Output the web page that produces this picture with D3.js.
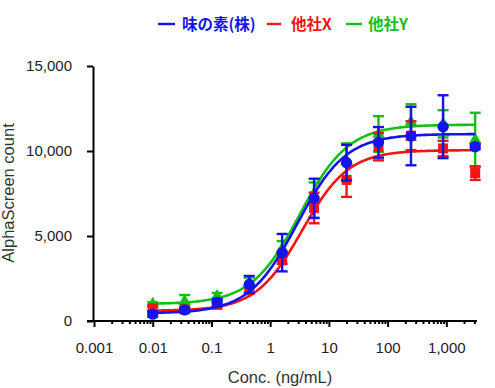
<!DOCTYPE html>
<html>
<head>
<meta charset="utf-8">
<script src="https://cdn.jsdelivr.net/npm/d3@7"></script>
<style>
  body { margin: 0; background: #fff; }
  text { font-family: "Liberation Sans", Arial, sans-serif; }
</style>
</head>
<body>
<div id="chart"></div>
<script>
// concentrations (ng/mL) of the dilution series
var conc = [0.01, 0.035, 0.125, 0.44, 1.6, 5.6, 20, 70, 250, 880, 3100];

// mean and SD of the AlphaScreen count, per product
var ajiMean   = [400, 650, 1100, 2150, 4020, 7220, 9310, 10510, 10880, 11430, 10250];
var ajiSD     = [150, 150, 200, 500, 1100, 1150, 1050, 900, 1720, 1850, 150];
var xMean     = [750, 680, 950, 1820, 3700, 6650, 8300, 10250, 10900, 10150, 8700];
var xSD       = [150, 100, 150, 200, 350, 900, 1000, 800, 850, 450, 400];
var yMean     = [1000, 1150, 1450, 2250, 4250, 7100, 9400, 11000, 11700, 11600, 10650];
var ySD       = [100, 380, 200, 300, 450, 1050, 1050, 1050, 1050, 800, 1600];

// 4PL fit parameters: bottom, top, EC50, hill
var ajiFit = [450, 11000, 2.9, 1.05];
var xFit   = [600, 10050, 3.5, 1.1];
var yFit   = [1000, 11550, 3.2, 1.05];

var seriesNames = ["味の素(株)", "他社X", "他社Y"];
var xTicks = [0.001, 0.01, 0.1, 1, 10, 100, 1000];
var xTickLabels = ["0.001", "0.01", "0.1", "1", "10", "100", "1,000"];
var yTicks = [0, 5000, 10000, 15000];

var series = [
  {name: seriesNames[2], mean: yMean, sd: ySD, fit: yFit, color: "#13c013", shape: "triangle"},
  {name: seriesNames[1], mean: xMean, sd: xSD, fit: xFit, color: "#f51414", shape: "square"},
  {name: seriesNames[0], mean: ajiMean, sd: ajiSD, fit: ajiFit, color: "#1414ee", shape: "circle"}
];

var svg = d3.select("#chart").append("svg")
    .attr("width", 495)
    .attr("height", 388);

var x = d3.scaleLog()
    .domain([0.001, 3200])
    .range([94, 476]);

var y = d3.scaleLinear()
    .domain([0, 15000])
    .range([321, 66]);

// minor ticks on the log axis
var minor = [];
for (var e = -3; e <= 3; e++) {
  for (var m = 2; m <= 9; m++) {
    var v = m * Math.pow(10, e);
    if (v <= 3200) minor.push(v);
  }
}

svg.append("g")
    .attr("transform", "translate(0," + y(0) + ")")
    .call(d3.axisBottom(x).tickValues(minor).tickSize(3).tickSizeOuter(0).tickFormat(""))
    .call(function(g) { g.select(".domain").remove(); });

var xAxis = svg.append("g")
    .attr("transform", "translate(0," + y(0) + ")")
    .call(d3.axisBottom(x)
      .tickValues(xTicks)
      .tickSize(6)
      .tickSizeOuter(0)
      .tickPadding(15)
      .tickFormat(function(d, i) { return xTickLabels[i]; }));

var yAxis = svg.append("g")
    .attr("transform", "translate(93,0)")
    .call(d3.axisLeft(y)
      .tickValues(yTicks)
      .tickSize(6)
      .tickSizeOuter(0)
      .tickPadding(15)
      .tickFormat(d3.format(",")));

svg.selectAll(".tick line").attr("stroke", "#000").attr("stroke-width", 2);
svg.selectAll(".domain").attr("stroke", "#000").attr("stroke-width", 2);
svg.selectAll(".tick text")
    .attr("font-size", 15)
    .attr("font-family", "Liberation Sans, Arial, sans-serif")
    .attr("fill", "#222");

// x domain line extends left past the y axis a little
xAxis.select(".domain").attr("d", "M87,0H477");

// axis titles
svg.append("text")
    .attr("transform", "translate(14,193) rotate(-90)")
    .attr("text-anchor", "middle")
    .attr("font-size", 16.5)
    .attr("fill", "#333")
    .text("AlphaScreen count");

svg.append("text")
    .attr("x", 280)
    .attr("y", 383)
    .attr("text-anchor", "middle")
    .attr("font-size", 16.5)
    .attr("fill", "#333")
    .text("Conc. (ng/mL)");

function fourPL(p, c) {
  return p[0] + (p[1] - p[0]) / (1 + Math.pow(p[2] / c, p[3]));
}

var line = d3.line()
    .x(function(d) { return x(d); })
    .curve(d3.curveLinear);

var logLo = Math.log10(conc[0]), logHi = Math.log10(conc[conc.length - 1]);
var curveX = d3.range(0, 201).map(function(i) { return Math.pow(10, logLo + (logHi - logLo) * i / 200); });

series.forEach(function(s) {
  var g = svg.append("g");
  var pts = conc.map(function(c, i) { return {c: c, m: s.mean[i], sd: s.sd[i]}; });

  // fitted curve
  g.append("path")
      .attr("fill", "none")
      .attr("stroke", s.color)
      .attr("stroke-width", 2.6)
      .attr("d", line.y(function(c) { return y(fourPL(s.fit, c)); })(curveX));

  // error bars
  var eb = g.selectAll("g.err").data(pts).enter().append("g")
      .attr("stroke", s.color)
      .attr("stroke-width", 2.4);
  eb.append("line")
      .attr("x1", function(d) { return x(d.c); })
      .attr("x2", function(d) { return x(d.c); })
      .attr("y1", function(d) { return y(d.m + d.sd); })
      .attr("y2", function(d) { return y(d.m - d.sd); });
  eb.append("line")
      .attr("x1", function(d) { return x(d.c) - 5.5; })
      .attr("x2", function(d) { return x(d.c) + 5.5; })
      .attr("y1", function(d) { return y(d.m + d.sd); })
      .attr("y2", function(d) { return y(d.m + d.sd); });
  eb.append("line")
      .attr("x1", function(d) { return x(d.c) - 5.5; })
      .attr("x2", function(d) { return x(d.c) + 5.5; })
      .attr("y1", function(d) { return y(d.m - d.sd); })
      .attr("y2", function(d) { return y(d.m - d.sd); });

  // markers
  var sym = s.shape === "circle" ? d3.symbolCircle : (s.shape === "square" ? d3.symbolSquare : d3.symbolTriangle);
  var size = s.shape === "circle" ? 100 : (s.shape === "square" ? 100 : 70);
  g.selectAll("path.pt").data(pts).enter().append("path")
      .attr("class", "pt")
      .attr("fill", s.color)
      .attr("transform", function(d) { return "translate(" + x(d.c) + "," + y(d.m) + ")"; })
      .attr("d", d3.symbol().type(sym).size(size));
});

// legend
var legendX = [[158, 175, 182], [267, 281, 291], [346, 362, 368]];
var legendColors = ["#1414ee", "#f51414", "#13c013"];
seriesNames.forEach(function(n, i) {
  svg.append("line")
      .attr("x1", legendX[i][0]).attr("x2", legendX[i][1])
      .attr("y1", 24).attr("y2", 24)
      .attr("stroke", legendColors[i])
      .attr("stroke-width", 2.4);
  svg.append("text")
      .attr("x", legendX[i][2])
      .attr("y", 29.5)
      .attr("font-size", 15.5)
      .attr("font-weight", "bold")
      .style("font-family", "'Noto Sans CJK JP', sans-serif")
      .attr("fill", legendColors[i])
      .text(n);
});
</script>
</body>
</html>
